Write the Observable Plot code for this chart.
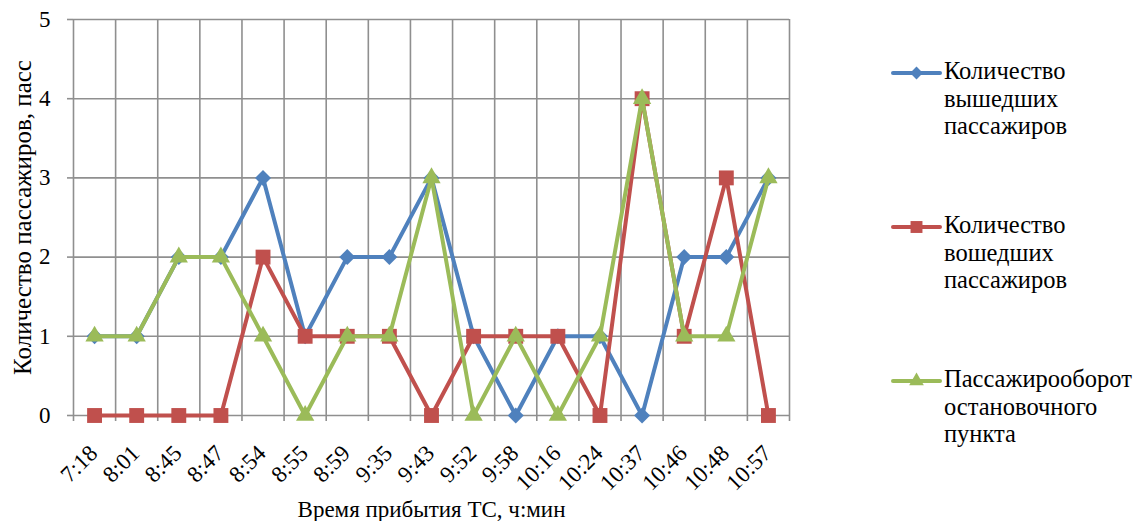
<!DOCTYPE html>
<html><head><meta charset="utf-8">
<script src="https://cdn.jsdelivr.net/npm/d3@7"></script>
<script src="https://cdn.jsdelivr.net/npm/@observablehq/plot@0.6"></script>
<style>
body{margin:0;background:#fff;}
#wrap{position:relative;width:1134px;height:521px;font-family:serif;color:#000;}
#legend{position:absolute;left:0;top:0;width:1134px;height:521px;pointer-events:none;}
.item{position:absolute;left:891px;display:flex;align-items:flex-start;}
.item svg{flex:none;margin-top:5px;}
.item .txt{font-family:serif;font-size:24.5px;line-height:27.5px;margin-left:2px;white-space:nowrap;}
</style></head><body>
<div id="wrap"><div id="chart"></div><div id="legend"></div></div>
<script>
const times = ["7:18","8:01","8:45","8:47","8:54","8:55","8:59","9:35","9:43","9:52","9:58","10:16","10:24","10:37","10:46","10:48","10:57"];
const exited   = [1,1,2,2,3,1,2,2,3,1,0,1,1,0,2,2,3];
const entered  = [0,0,0,0,2,1,1,1,0,1,1,1,0,4,1,3,0];
const turnover = [1,1,2,2,1,0,1,1,3,0,1,0,1,4,1,1,3];
const seriesNames = ["Количество вышедших пассажиров","Количество вошедших пассажиров","Пассажирооборот остановочного пункта"];
const legendLines = [["Количество","вышедших","пассажиров"],["Количество","вошедших","пассажиров"],["Пассажирооборот","остановочного","пункта"]];
const colors = ["#4F81BD","#C0504D","#9BBB59"];
const symbols = ["diamond2","square","triangle"];
const radii = [7.2, 8.4, 6.8];
const yTicks = [0,1,2,3,4,5];
const yLabel = "Количество пассажиров, пасс";
const xLabel = "Время прибытия ТС, ч:мин";

const allValues = [exited, entered, turnover];
const idx = times.map((_, i) => i);
const bounds = d3.range(times.length + 1).map(i => i - 0.5);
const grid = "#8f8f8f";

const seriesMarks = allValues.flatMap((vals, s) => {
  const rows = vals.map((v, i) => ({i, v}));
  return [
    Plot.line(rows, {x: "i", y: "v", stroke: colors[s], strokeWidth: 4, strokeLinejoin: "round"}),
    Plot.dot(rows, {x: "i", y: "v", symbol: () => symbols[s], fill: colors[s], stroke: "none", r: radii[s]})
  ];
});

const chart = Plot.plot({
  width: 1134, height: 521,
  marginLeft: 73, marginRight: 345, marginTop: 19, marginBottom: 106,
  style: {fontFamily: "serif", fontSize: "23px", color: "#000", background: "#fff", overflow: "visible"},
  x: {type: "linear", domain: [-0.5, times.length - 0.5]},
  y: {domain: [0, 5]},
  symbol: {type: "identity"},
  marks: [
    Plot.ruleY(yTicks, {stroke: grid, strokeWidth: 1.6}),
    Plot.ruleX(bounds, {stroke: grid, strokeWidth: 1.6}),
    Plot.axisY({ticks: yTicks, tickSize: 6, tickPadding: 17, stroke: grid, strokeWidth: 1.6, fontSize: 23, tickFormat: d => String(d), label: null}),
    Plot.axisY({ticks: [], tickSize: 0, label: yLabel, labelAnchor: "center", labelOffset: 60, labelArrow: "none", fontSize: 25}),
    Plot.axisX({ticks: bounds, tickSize: 6, stroke: grid, strokeWidth: 1.6, tickFormat: () => "", label: null}),
    Plot.text(idx, {x: d => d, text: d => times[d], frameAnchor: "bottom", rotate: -45, textAnchor: "end", lineAnchor: "middle", fontSize: 23, dx: -1, dy: 34}),
    Plot.axisX({ticks: [], tickSize: 0, label: xLabel, labelAnchor: "center", labelOffset: 101, labelArrow: "none", fontSize: 23}),
    ...seriesMarks
  ]
});
document.getElementById("chart").appendChild(chart);

// legend
const legendTops = [57, 211, 365];
const leg = document.getElementById("legend");
legendLines.forEach((lines, s) => {
  const item = document.createElement("div");
  item.className = "item";
  item.style.top = legendTops[s] + "px";
  item.title = seriesNames[s];
  const svg = d3.create("svg").attr("width", 51).attr("height", 22);
  svg.append("line").attr("x1", 2).attr("x2", 49).attr("y1", 11).attr("y2", 11).attr("stroke", colors[s]).attr("stroke-width", 4).attr("stroke-linecap", "round");
  const sym = {diamond2: d3.symbolDiamond2, square: d3.symbolSquare, triangle: d3.symbolTriangle}[symbols[s]];
  svg.append("path").attr("transform", "translate(25.5,11)").attr("d", d3.symbol(sym, Math.PI * (radii[s] * 0.8) ** 2)()).attr("fill", colors[s]);
  item.appendChild(svg.node());
  const t = document.createElement("div");
  t.className = "txt";
  t.innerHTML = lines.join("<br>");
  item.appendChild(t);
  leg.appendChild(item);
});
</script>
</body></html>
